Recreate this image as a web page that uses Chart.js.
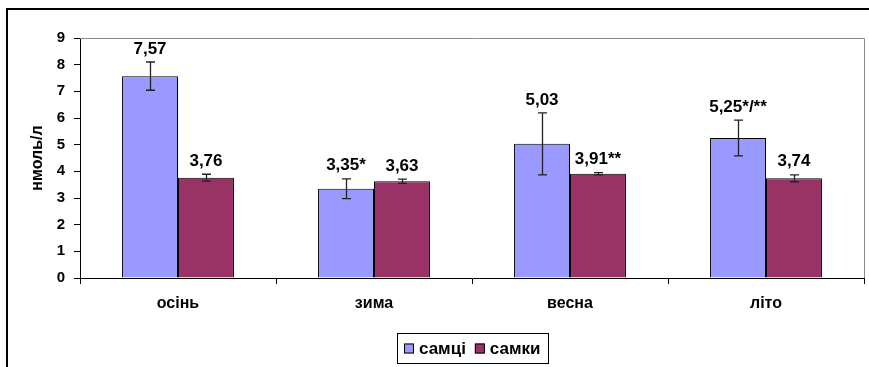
<!DOCTYPE html>
<html>
<head>
<meta charset="utf-8">
<script src="https://cdn.jsdelivr.net/npm/chart.js@4/dist/chart.umd.min.js"></script>
<style>
  html, body { margin: 0; padding: 0; background: #fff; }
  canvas { display: block; }
</style>
</head>
<body>
<canvas id="c" width="869" height="367"></canvas>
<script>
// Seasons and hormone levels, nmol/l
const seasons = ['осінь', 'зима', 'весна', 'літо'];
const seriesNames = ['самці', 'самки'];
const males = [7.57, 3.35, 5.03, 5.25];
const malesErr = [0.53, 0.37, 1.16, 0.67];
const malesMarks = ['', '*', '', '*/**'];
const females = [3.76, 3.63, 3.91, 3.74];
const femalesErr = [0.13, 0.08, 0.04, 0.13];
const femalesMarks = ['', '', '**', ''];
const yTicks = [0, 1, 2, 3, 4, 5, 6, 7, 8, 9];

const FONT = 'Liberation Sans, Arial, sans-serif';

const errors = [malesErr, femalesErr];
const marks = [malesMarks, femalesMarks];

function fmt(v) { return v.toFixed(2).replace('.', ','); }

// Outer frame of the figure and the grey box around the plot area
const framePlugin = {
  id: 'frame',
  beforeDatasetsDraw(chart) {
    const { ctx, chartArea: a } = chart;
    ctx.save();
    ctx.strokeStyle = '#8c8c8c';
    ctx.lineWidth = 1;
    ctx.beginPath();
    ctx.moveTo(a.left, a.top + 0.5);
    ctx.lineTo(a.right + 0.5, a.top + 0.5);
    ctx.lineTo(a.right + 0.5, a.bottom);
    ctx.stroke();
    ctx.restore();
  },
  afterDraw(chart) {
    const { ctx } = chart;
    ctx.save();
    ctx.strokeStyle = '#000';
    ctx.lineWidth = 2;
    ctx.beginPath();
    ctx.moveTo(7, chart.height);
    ctx.lineTo(7, 9);
    ctx.lineTo(chart.width, 9);
    ctx.stroke();
    ctx.restore();
  }
};

// Error bars and value labels above each bar
const errorPlugin = {
  id: 'errorbars',
  afterDatasetsDraw(chart) {
    const { ctx } = chart;
    const y = chart.scales.y;
    ctx.save();
    chart.data.datasets.forEach((ds, di) => {
      const meta = chart.getDatasetMeta(di);
      meta.data.forEach((bar, i) => {
        const v = ds.data[i];
        const e = errors[di][i];
        const yt = y.getPixelForValue(v + e);
        const yb = y.getPixelForValue(v - e);
        const x = Math.round(bar.x) + 0.5;
        ctx.strokeStyle = '#222';
        ctx.lineWidth = 1.3;
        ctx.beginPath();
        ctx.moveTo(x, yt); ctx.lineTo(x, yb);
        ctx.moveTo(x - 4.5, yt); ctx.lineTo(x + 4.5, yt);
        ctx.moveTo(x - 4.5, yb); ctx.lineTo(x + 4.5, yb);
        ctx.stroke();

        ctx.fillStyle = '#000';
        ctx.font = 'bold 17px ' + FONT;
        ctx.textAlign = 'center';
        ctx.textBaseline = 'middle';
        ctx.fillText(fmt(v) + marks[di][i], bar.x, Math.min(yt, bar.y) - 13);
      });
    });
    ctx.restore();
  }
};

// Boxed legend centred below the axis
const legendPlugin = {
  id: 'boxLegend',
  afterDraw(chart) {
    const { ctx, chartArea: a } = chart;
    ctx.save();
    ctx.font = 'bold 17px ' + FONT;
    const sq = 10, gapIn = 5, gapItems = 9, padL = 7, padR = 7;
    const items = chart.data.datasets.map(d => ({
      label: d.label, color: d.backgroundColor, w: ctx.measureText(d.label).width
    }));
    let total = padL + padR;
    items.forEach((it, k) => { total += sq + gapIn + it.w + (k ? gapItems : 0); });
    const boxTop = 333, boxH = 30;
    const left = Math.round((a.left + a.right) / 2 - total / 2);
    ctx.strokeStyle = '#000';
    ctx.lineWidth = 1;
    ctx.strokeRect(left + 0.5, boxTop + 0.5, Math.round(total), boxH);
    let x = left + padL;
    const cy = boxTop + boxH / 2 + 0.5;
    items.forEach((it, k) => {
      if (k) x += gapItems;
      ctx.fillStyle = it.color;
      ctx.fillRect(x, cy - sq / 2, sq, sq);
      ctx.strokeRect(x + 0.5, cy - sq / 2 + 0.5, sq - 1, sq - 1);
      x += sq + gapIn;
      ctx.fillStyle = '#000';
      ctx.textAlign = 'left';
      ctx.textBaseline = 'middle';
      ctx.fillText(it.label, x, cy + 1);
      x += it.w;
    });
    ctx.restore();
  }
};

new Chart(document.getElementById('c'), {
  type: 'bar',
  data: {
    labels: seasons,
    datasets: [
      { label: seriesNames[0], data: males, backgroundColor: '#9999ff',
        borderColor: '#000', borderWidth: 1 },
      { label: seriesNames[1], data: females, backgroundColor: '#993366',
        borderColor: '#000', borderWidth: 1 }
    ]
  },
  options: {
    responsive: false,
    animation: false,
    devicePixelRatio: 1,
    layout: { padding: { left: 0, top: 38, right: 5, bottom: 0 } },
    datasets: { bar: { categoryPercentage: 0.571, barPercentage: 1.0 } },
    plugins: { legend: { display: false }, tooltip: { enabled: false } },
    scales: {
      x: {
        afterFit(s) { s.height = 89; },
        grid: { display: true, drawOnChartArea: false, drawTicks: true, tickLength: 6,
                color: '#000', offset: true },
        border: { display: true, color: '#000', width: 1 },
        ticks: { color: '#000', font: { family: FONT, size: 16, weight: 'bold' }, padding: 10 }
      },
      y: {
        min: 0, max: 9,
        afterFit(s) { s.width = 80; },
        afterBuildTicks(s) { s.ticks = yTicks.map(v => ({ value: v })); },
        grid: { display: true, drawOnChartArea: false, drawTicks: true, tickLength: 6,
                color: '#000' },
        border: { display: true, color: '#000', width: 1 },
        ticks: { color: '#000', font: { family: FONT, size: 15, weight: 'bold' }, padding: 9,
                 callback: v => String(v) },
        title: { display: true, text: 'нмоль/л', color: '#000',
                 font: { family: FONT, size: 16, weight: 'bold' },
                 padding: { top: 28, bottom: 0 } }
      }
    }
  },
  plugins: [framePlugin, errorPlugin, legendPlugin]
});
</script>
</body>
</html>
